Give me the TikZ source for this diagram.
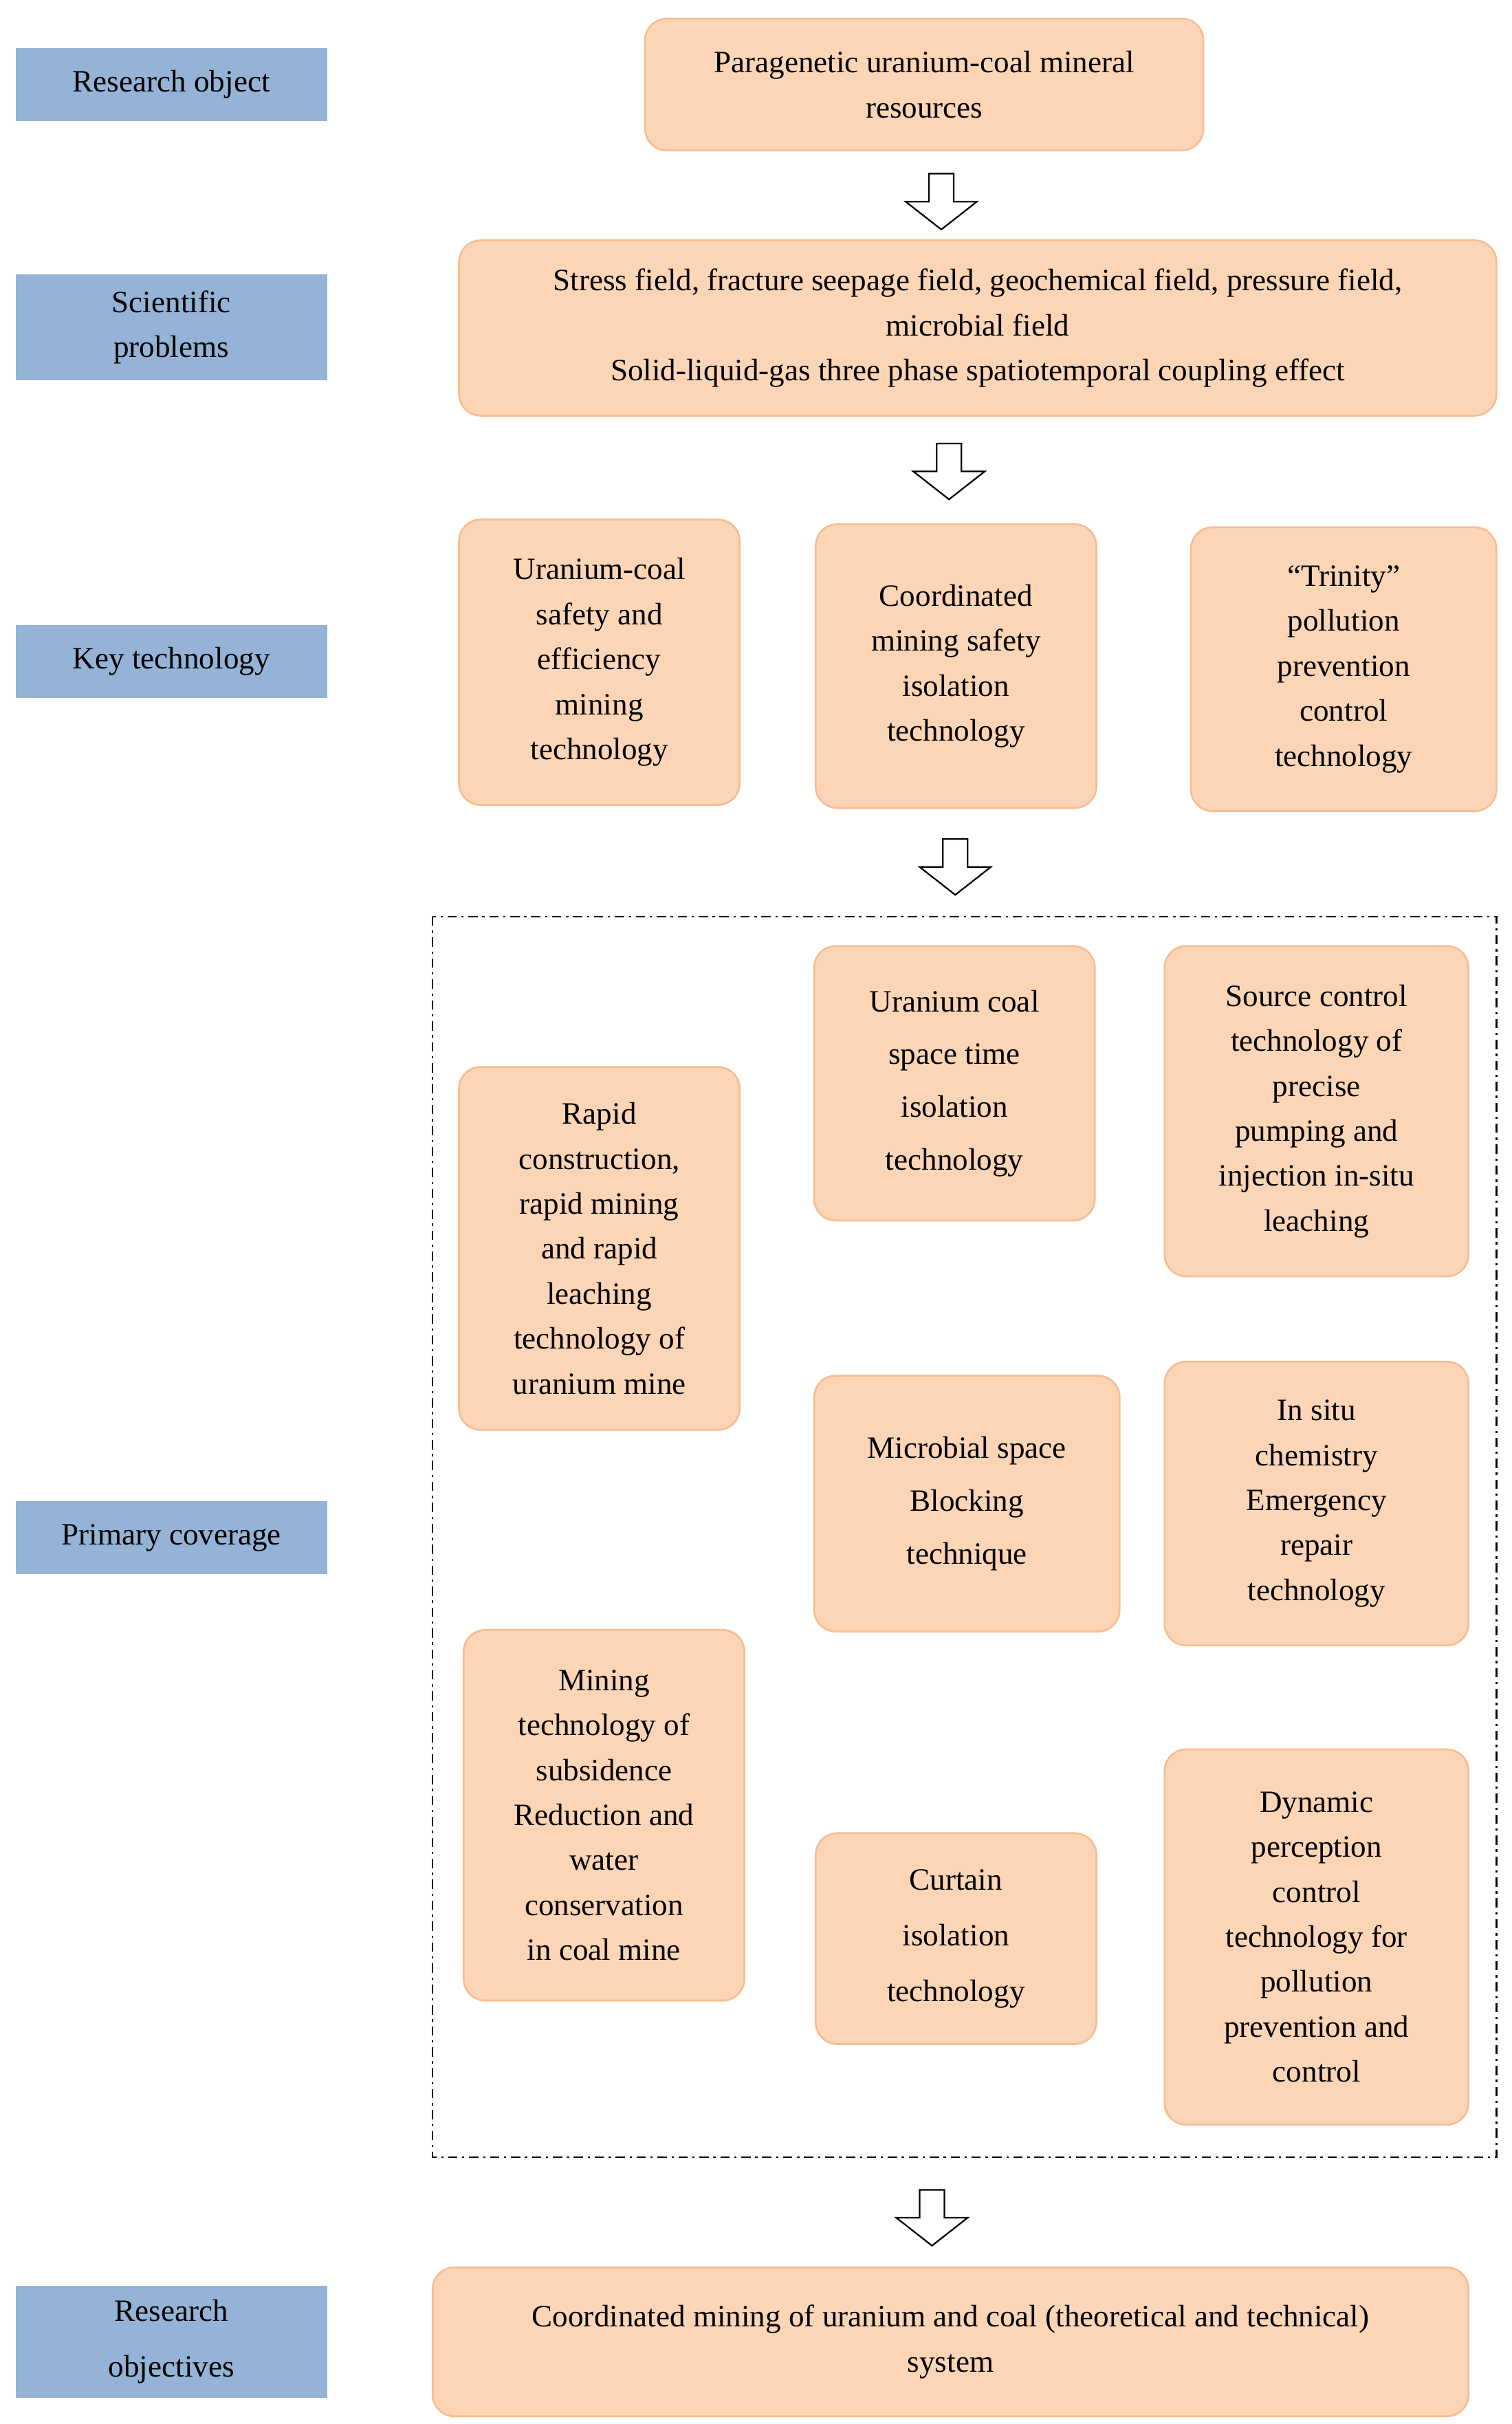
\documentclass[tikz,border=0pt]{standalone}
\usepackage{fontspec}
\setmainfont{Liberation Serif}
\begin{document}
\begin{tikzpicture}[x=1pt,y=-1pt,
  lbl/.style={fill=blue!35!cyan!20!white,fill={rgb,255:red,149;green,179;blue,215},draw=none,inner sep=0pt,font=\fontsize{20}{29}\selectfont,align=center},
  box/.style={fill={rgb,255:red,251;green,213;blue,181},draw={rgb,255:red,246;green,190;blue,146},line width=1.2pt,rounded corners=14pt,inner sep=0pt,font=\fontsize{20}{29}\selectfont,align=center},
  barrow/.style={draw=black,line width=1pt,fill=white}]
\useasboundingbox (0,0) rectangle (975,1563);
\newcommand{\rbox}[6]{\node[#1,minimum width=#4-#2,minimum height=#5-#3] (#6) at ({(#2+#4)/2},{(#3+#5)/2}) {};}
\newcommand{\darrow}[3]{\draw[barrow] (#1-8,#2) -- (#1+8,#2) -- (#1+8,#3-18) -- (#1+23,#3-18) -- (#1,#3) -- (#1-23,#3-18) -- (#1-8,#3-18) -- cycle;}
% left labels
\node[lbl,minimum width=201,minimum height=47] (l1) at (110.5,54.5) {Research object};
\node[lbl,minimum width=201,minimum height=68] (l2) at (110.5,211) {Scientific\\problems};
\node[lbl,minimum width=201,minimum height=47] (l3) at (110.5,426.5) {Key technology};
\node[lbl,minimum width=201,minimum height=47] (l4) at (110.5,991.5) {Primary coverage};
\node[lbl,minimum width=201,minimum height=72] (l5) at (110.5,1510) {Research\\[7pt]objectives};
% boxes
\node[box,minimum width=360,minimum height=85] (top) at (596,54.5) {Paragenetic uranium-coal mineral\\resources};
\node[box,minimum width=669,minimum height=113] (sci) at (630.5,211.5) {Stress field, fracture seepage field, geochemical field, pressure field,\\microbial field\\Solid-liquid-gas three phase spatiotemporal coupling effect};
\node[box,minimum width=181,minimum height=184] (k1) at (386.5,427) {Uranium-coal\\safety and\\efficiency\\mining\\technology};
\node[box,minimum width=181,minimum height=183] (k2) at (616.5,429.5) {Coordinated\\mining safety\\isolation\\technology};
\node[box,minimum width=197,minimum height=183] (k3) at (866.5,431.5) {``Trinity''\\pollution\\prevention\\control\\technology};
\draw[dash pattern=on 6pt off 3pt on 1.5pt off 3pt,line width=1pt] (279,591) rectangle (965,1391);
\node[box,minimum width=181,minimum height=234] (p1) at (386.5,805) {Rapid\\construction,\\rapid mining\\and rapid\\leaching\\technology of\\uranium mine};
\node[box,minimum width=181,minimum height=177,font=\fontsize{20}{34}\selectfont] (p2) at (615.5,698.5) {Uranium coal\\space time\\isolation\\technology};
\node[box,minimum width=196,minimum height=213] (p3) at (849,716.5) {Source control\\technology of\\precise\\pumping and\\injection in-situ\\leaching};
\node[box,minimum width=197,minimum height=165,font=\fontsize{20}{34}\selectfont] (p4) at (623.5,969.5) {Microbial space\\Blocking\\technique};
\node[box,minimum width=196,minimum height=183] (p5) at (849,969.5) {In situ\\chemistry\\Emergency\\repair\\technology};
\node[box,minimum width=181,minimum height=239] (p6) at (389.5,1170.5) {Mining\\technology of\\subsidence\\Reduction and\\water\\conservation\\in coal mine};
\node[box,minimum width=181,minimum height=136,font=\fontsize{20}{36}\selectfont] (p7) at (616.5,1250) {Curtain\\isolation\\technology};
\node[box,minimum width=196,minimum height=242] (p8) at (849,1249) {Dynamic\\perception\\control\\technology for\\pollution\\prevention and\\control};
\node[box,minimum width=668,minimum height=96] (bot) at (613,1510) {Coordinated mining of uranium and coal (theoretical and technical)\\system};
% block arrows
\darrow{607}{112}{148}
\darrow{612}{286}{322}
\darrow{616}{541}{577}
\darrow{601}{1412}{1448}
\end{tikzpicture}
\end{document}
